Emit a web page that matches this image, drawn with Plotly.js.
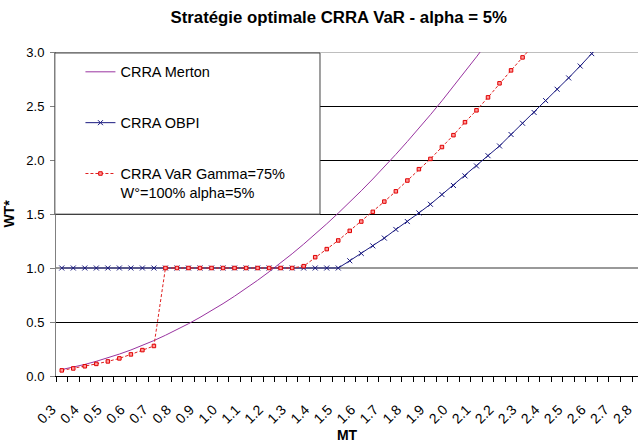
<!DOCTYPE html>
<html>
<head>
<meta charset="utf-8">
<script src="https://cdn.plot.ly/plotly-3.0.1.min.js"></script>
<style>html,body{margin:0;padding:0;background:#fff;}#chart{width:638px;height:445px;}</style>
</head>
<body>
<div id="chart"></div>
<script>
// x categories (MT)
const MT = [0.30,0.35,0.40,0.45,0.50,0.55,0.60,0.65,0.70,0.75,0.80,0.85,0.90,0.95,1.00,1.05,1.10,1.15,1.20,1.25,1.30,1.35,1.40,1.45,1.50,1.55,1.60,1.65,1.70,1.75,1.80,1.85,1.90,1.95,2.00,2.05,2.10,2.15,2.20,2.25,2.30,2.35,2.40,2.45,2.50,2.55,2.60,2.65];
const tickLabels = ['0.3','0.4','0.5','0.6','0.7','0.8','0.9','1.0','1.1','1.2','1.3','1.4','1.5','1.6','1.7','1.8','1.9','2.0','2.1','2.2','2.3','2.4','2.5','2.6','2.7','2.8'];
const tickPos = [0.3,0.4,0.5,0.6,0.7,0.8,0.9,1.0,1.1,1.2,1.3,1.4,1.5,1.6,1.7,1.8,1.9,2.0,2.1,2.2,2.3,2.4,2.5,2.6,2.7,2.8];

// CRRA Merton (0.30 .. 2.15)
const merton = [0.060,0.082,0.107,0.136,0.168,0.203,0.241,0.283,0.328,0.377,0.429,0.484,0.543,0.605,0.670,0.739,0.811,0.886,0.965,1.047,1.132,1.221,1.313,1.409,1.508,1.610,1.715,1.824,1.936,2.052,2.171,2.293,2.419,2.548,2.680,2.816,2.955,3.097];
// CRRA OBPI (0.30 .. 2.65)
const obpi = [1,1,1,1,1,1,1,1,1,1,1,1,1,1,1,1,1,1,1,1,1,1,1,1,1,1.067,1.135,1.205,1.277,1.357,1.43,1.51,1.59,1.68,1.764,1.853,1.945,2.04,2.13,2.236,2.34,2.44,2.55,2.655,2.76,2.87,2.985,3.10];
// CRRA VaR Gamma=75% W°=100% alpha=5% (0.30 .. 2.35)
const varG = [0.052,0.070,0.090,0.112,0.135,0.163,0.200,0.240,0.278,1,1,1,1,1,1,1,1,1,1,1,1,1.017,1.10,1.175,1.255,1.344,1.43,1.52,1.615,1.71,1.81,1.915,2.01,2.12,2.23,2.35,2.46,2.58,2.71,2.83,2.95,3.07];

const FONT = '"Liberation Sans", Arial, sans-serif';

const traces = [
  {x: MT.slice(0, merton.length), y: merton, name: 'CRRA Merton', type: 'scatter', mode: 'lines',
   line: {color: '#9933a0', width: 1}, legendgroup: 'a'},
  {x: MT.slice(0, obpi.length), y: obpi, name: 'CRRA OBPI', type: 'scatter', mode: 'lines+markers',
   line: {color: '#1a1a80', width: 1}, marker: {symbol: 'x-thin', size: 5, line: {color: '#1a1a80', width: 1}, color: '#1a1a80'}, legendgroup: 'b'},
  {x: MT.slice(0, varG.length), y: varG, name: 'CRRA VaR Gamma=75%<br>W°=100% alpha=5%', type: 'scatter', mode: 'lines+markers',
   line: {color: '#e02020', width: 1, dash: '3px,2px'}, marker: {symbol: 'square', size: 3.5, color: '#ff9a9a', line: {color: '#e00000', width: 1}}, legendgroup: 'c'}
];

const layout = {
  width: 638, height: 445,
  margin: {l: 56, r: 0, t: 52, b: 69},
  paper_bgcolor: '#fff', plot_bgcolor: '#fff',
  font: {family: FONT, color: '#000', size: 13},
  title: {text: 'Stratégie optimale CRRA VaR - alpha = 5%', font: {family: FONT, size: 16.8, weight: 'bold', color: '#000'},
          x: 0.531, xref: 'container', xanchor: 'center', y: 0.962, yref: 'container', yanchor: 'middle'},
  showlegend: true,
  legend: {x: 0.042, y: 0.988, xref: 'paper', yref: 'paper', xanchor: 'left', yanchor: 'top',
           bgcolor: 'rgba(0,0,0,0)', borderwidth: 0, font: {family: FONT, size: 14.5, color: '#000'},
           tracegroupgap: 29, valign: 'top', traceorder: 'grouped'},
  xaxis: {
    range: [0.275, 2.801], automargin: false,
    tickmode: 'array', tickvals: tickPos, ticktext: tickLabels, ticks: '',
    tickangle: -45, tickfont: {family: FONT, size: 14, color: '#000'},
    ticklabelshift: -10, ticklabelstandoff: 19,
    minor: {tickmode: 'linear', tick0: 0.275, dtick: 0.05, ticks: 'outside', ticklen: 5, tickcolor: '#000', tickwidth: 1, showgrid: false},
    showline: true, linecolor: '#000', linewidth: 1, showgrid: false, zeroline: false,
    title: {text: 'MT', font: {family: FONT, size: 14, weight: 'bold', color: '#000'}, standoff: 0}
  },
  yaxis: {
    range: [0, 3], automargin: false, tickmode: 'linear', tick0: 0, dtick: 0.5, tickformat: '.1f',
    ticks: 'outside', ticklen: 5, tickcolor: '#808080', tickfont: {family: FONT, size: 13, color: '#000'},
    ticklabelstandoff: 3,
    showline: true, linecolor: '#808080', linewidth: 1,
    showgrid: true, gridcolor: '#000', gridwidth: 1, zeroline: false,
    title: {text: 'WT*', font: {family: FONT, size: 14, weight: 'bold', color: '#000'}, standoff: 8}
  },
  shapes: [
    {type: 'line', xref: 'x', yref: 'y', x0: 0.275, x1: 2.801, y0: 3, y1: 3, line: {color: '#a8a8a8', width: 1.5}, layer: 'between'},
    {type: 'line', xref: 'x', yref: 'y', x0: 0.275, x1: 2.801, y0: 1, y1: 1, line: {color: '#999999', width: 2}, layer: 'between'},
    {type: 'rect', xref: 'paper', yref: 'paper', x0: -0.002, x1: 0.4536, y0: 0.4995, y1: 0.997,
     fillcolor: '#fff', line: {color: '#404040', width: 1}, layer: 'above'}
  ]
};

Plotly.newPlot('chart', traces, layout, {displayModeBar: false, staticPlot: true});
</script>
</body>
</html>
